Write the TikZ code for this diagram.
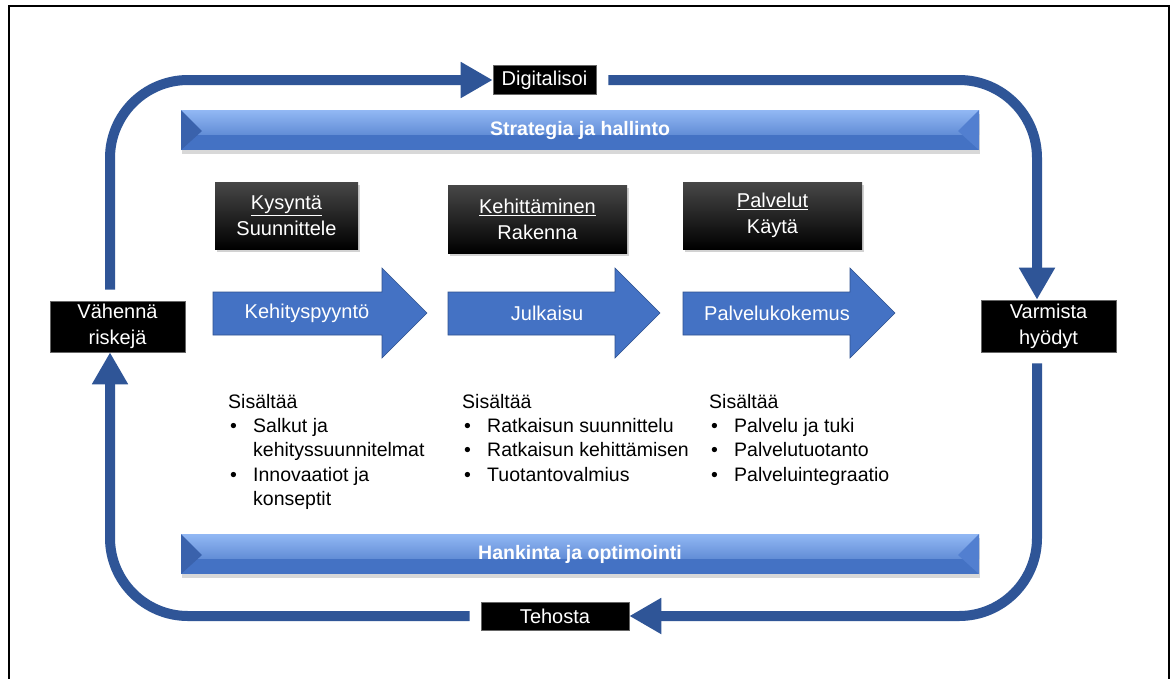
\documentclass[tikz,border=0pt]{standalone}
\usepackage{fontspec}
\setmainfont{Liberation Sans}
\usetikzlibrary{arrows.meta,shadows,calc}
\definecolor{loopblue}{HTML}{2F5597}
\definecolor{arrowblue}{HTML}{4472C4}
\definecolor{arrowedge}{HTML}{2F528F}
\definecolor{barlight}{HTML}{92B8F4}
\definecolor{bardark}{HTML}{3A62AC}
\definecolor{barright}{HTML}{527FD0}
\begin{document}
\begin{tikzpicture}[x=1pt,y=-1pt,
  loopline/.style={draw=loopblue,line width=10pt,rounded corners=78pt,
    -{Triangle[width=34pt,length=32pt]}},
  blackbox/.style={fill=black,draw=black!60,line width=0.6pt,text=white,inner sep=0pt,
    align=center,font=\fontsize{20}{26}\selectfont},
  topbox/.style={top color=black!72,middle color=black,bottom color=black,text=white,
    inner sep=0pt,align=center,font=\fontsize{20}{26}\selectfont,
    drop shadow={shadow xshift=2pt,shadow yshift=-3pt,opacity=0.35}},
  barnode/.style={minimum width=798pt,minimum height=40pt,inner sep=0pt,text=white,
    font=\bfseries\fontsize{19.5}{20}\selectfont,fill=arrowblue,
    drop shadow={shadow xshift=1pt,shadow yshift=-4pt,opacity=0.3},
    path picture={
      \fill[top color=barlight,bottom color=arrowblue]
        (path picture bounding box.north west) rectangle ($(path picture bounding box.east)+(0,4)$);
      \fill[bardark] (path picture bounding box.north west) -- ++(21,21)
        -- (path picture bounding box.south west) -- cycle;
      \fill[barright] (path picture bounding box.north east) -- ++(-21,21)
        -- (path picture bounding box.south east) -- cycle;
    }},
  blockarrow/.style={fill=arrowblue,draw=arrowedge,line width=0.6pt},
  arrowtext/.style={text=white,inner sep=0pt,font=\fontsize{20}{24}\selectfont},
  listtext/.style={anchor=north west,inner sep=0pt,align=left,font=\fontsize{19.5}{24.3}\selectfont}
]
\useasboundingbox (0,0) rectangle (1174,678);
\fill[white] (0,0) rectangle (1174,678);
% outer frame
\draw[line width=1.5pt] (9,690) -- (9,6) -- (1169,6) -- (1169,690);

% loop corner coordinates
\coordinate (tl) at (110,80);
\coordinate (tr) at (1037,80);

% loop labels
\node[blackbox,minimum width=103pt,minimum height=29pt] (dig) at (544.5,80) {Digitalisoi};
\node[blackbox,minimum width=135pt,minimum height=52pt] (var) at (1048.5,326) {Varmista\\hyödyt};
\node[blackbox,minimum width=148pt,minimum height=28pt] (teh) at (555,616) {Tehosta};
\node[blackbox,minimum width=135pt,minimum height=51pt] (vah) at (117.5,326.5) {Vähennä\\riskejä};

% loop connectors
\draw[loopline] ($(vah.north -| tl)+(0,-11)$) |- (dig.west);
\draw[loopline] ($(dig.east)+(12,0)$) -| (var.north -| tr);
\draw[loopline] ($(var.south -| tr)+(0,11)$) |- (teh.east);
\draw[loopline] ($(teh.west)+(-11,0)$) -| (vah.south -| tl);

% bars
\node[barnode] (strat) at (580,130) {Strategia ja hallinto};
\node[barnode] (hank) at (580,554) {Hankinta ja optimointi};

% top black boxes
\node[topbox,minimum width=143pt,minimum height=67pt] (kys) at (286.5,215.5)
  {\underline{Kysyntä}\\Suunnittele};
\node[topbox,minimum width=179pt,minimum height=68pt] (keh) at (537.5,219)
  {\underline{Kehittäminen}\\Rakenna};
\node[topbox,minimum width=179pt,minimum height=67pt] (pal) at (772.5,215.5)
  {\underline{Palvelut}\\Käytä};

% block arrows
\draw[blockarrow] (213,292) -- (382,292) -- (382,268) -- (427,313) -- (382,358) -- (382,335) -- (213,335) -- cycle;
\node[arrowtext] (a1) at (307,313) {Kehityspyyntö};
\draw[blockarrow] (448,292) -- (615,292) -- (615,268) -- (660,313) -- (615,358) -- (615,335) -- (448,335) -- cycle;
\node[arrowtext] (a2) at (547,313) {Julkaisu};
\draw[blockarrow] (683,292) -- (850,292) -- (850,268) -- (895,313) -- (850,358) -- (850,335) -- (683,335) -- cycle;
\node[arrowtext] (a3) at (777,313) {Palvelukokemus};

% lists
\node[listtext] (l1) at (228,394) {Sisältää\\
  \hspace*{2pt}\makebox[23pt][l]{\textbullet}Salkut ja\\
  \hspace*{25pt}kehityssuunnitelmat\\
  \hspace*{2pt}\makebox[23pt][l]{\textbullet}Innovaatiot ja\\
  \hspace*{25pt}konseptit};
\node[listtext] (l2) at (462,394) {Sisältää\\
  \hspace*{2pt}\makebox[23pt][l]{\textbullet}Ratkaisun suunnittelu\\
  \hspace*{2pt}\makebox[23pt][l]{\textbullet}Ratkaisun kehittämisen\\
  \hspace*{2pt}\makebox[23pt][l]{\textbullet}Tuotantovalmius};
\node[listtext] (l3) at (709,394) {Sisältää\\
  \hspace*{2pt}\makebox[23pt][l]{\textbullet}Palvelu ja tuki\\
  \hspace*{2pt}\makebox[23pt][l]{\textbullet}Palvelutuotanto\\
  \hspace*{2pt}\makebox[23pt][l]{\textbullet}Palveluintegraatio};
\end{tikzpicture}
\end{document}
